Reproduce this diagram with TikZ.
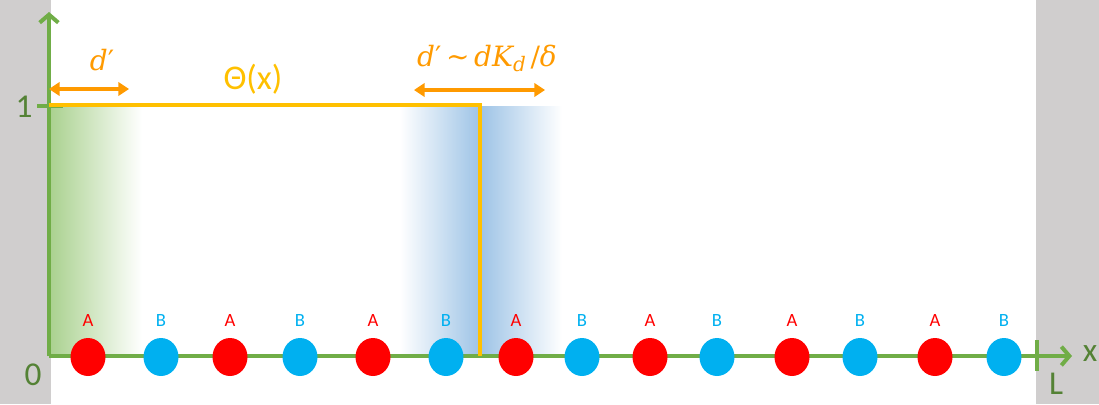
\documentclass[tikz,border=0pt]{standalone}
\usepackage{fontspec}
\setmainfont{Carlito}
\newfontfamily\mathlike{DejaVu Serif}
\usetikzlibrary{arrows.meta,shapes.geometric}
\definecolor{axisgreen}{HTML}{70AD47}
\definecolor{labgreen}{HTML}{548235}
\definecolor{bggray}{HTML}{D0CECE}
\definecolor{thetacol}{HTML}{FFC000}
\definecolor{arrorange}{HTML}{FF9A00}
\definecolor{ared}{HTML}{FF0000}
\definecolor{bblue}{HTML}{00B0F0}
\definecolor{shgreen}{HTML}{A9D18E}
\definecolor{shblue}{HTML}{9DC3E6}
\tikzset{
  axisline/.style={draw=axisgreen, line width=3pt},
  axislab/.style={text=labgreen, font=\fontsize{25}{28}\selectfont, inner sep=0pt},
  dimarrow/.style={draw=arrorange, line width=3pt, {Triangle[length=8pt,width=10pt]}-{Triangle[length=8pt,width=10pt]}},
  dimlab/.style={text=arrorange, font=\mathlike\fontsize{21}{24}\selectfont, inner sep=0pt},
  atomA/.style={ellipse, fill=ared, minimum width=26.25pt, minimum height=28.5pt, inner sep=0pt},
  atomB/.style={ellipse, fill=bblue, minimum width=26.25pt, minimum height=28.5pt, inner sep=0pt},
  labA/.style={text=ared, font=\fontsize{14}{16}\selectfont, inner sep=0pt},
  labB/.style={text=bblue, font=\fontsize{14}{16}\selectfont, inner sep=0pt},
}
\newcommand{\itx}[1]{{\itshape #1}}
\begin{document}
\begin{tikzpicture}[x=0.75pt,y=-0.75pt]
\useasboundingbox (0,0) rectangle (1099,404);
% background bars
\fill[bggray] (0,0) rectangle (51,404);
\fill[bggray] (1036,0) rectangle (1099,404);
% shaded regions
\shade[left color=shgreen, right color=white] (49,106) rectangle (142,356);
\shade[left color=white, right color=shblue] (400,106) rectangle (480,356);
\shade[left color=shblue, right color=white] (480,106) rectangle (562,356);
% axes
\coordinate (O) at (49,356);
\coordinate (ytop) at (49,12);
\coordinate (xend) at (1072,356);
\coordinate (t1a) at (37,106);
\coordinate (t1b) at (63,106);
\coordinate (tLa) at (1037,340);
\coordinate (tLb) at (1037,371);
\draw[axisline, -{Straight Barb[length=6pt,width=14pt]}] (O) -- (ytop);
\draw[axisline, -{Straight Barb[length=6pt,width=14pt]}] (O) -- (xend);
\draw[axisline] (t1a) -- (t1b);
\draw[axisline] (tLa) -- (tLb);
\node[axislab] (one) at (24,107) {1};
\node[axislab] (zero) at (33,375) {0};
\node[axislab] (xlab) at (1090,354) {x};
\node[axislab] (Llab) at (1056,384) {L};
% theta step
\coordinate (th0) at (49,105);
\coordinate (th1) at (480,105);
\coordinate (th2) at (480,356);
\draw[thetacol, line width=3pt] (th0) -- (th1) -- (th2);
\node[text=thetacol, font=\fontsize{26}{30}\selectfont, inner sep=0pt] (thetalab) at (253,79) {Θ(x)};
% dimension arrows
\coordinate (d1a) at (49,89);
\coordinate (d1b) at (129,89);
\coordinate (d2a) at (414,90);
\coordinate (d2b) at (545,90);
\draw[dimarrow] (d1a) -- (d1b);
\draw[dimarrow] (d2a) -- (d2b);
\node[dimlab] (dlab1) at (102,60) {\itx{d}′};
\node[dimlab] (dlab2) at (487,58) {\itx{d}′\,∼\,\itx{dK}\raisebox{-0.35ex}{\fontsize{15}{17}\selectfont\itshape d}\,/\itx{δ}};
% atoms
\foreach \i/\x/\t in {1/88/A,2/161/B,3/230/A,4/300/B,5/373/A,6/446/B,7/516/A,8/582/B,9/650/A,10/717/B,11/792/A,12/860/B,13/935/A,14/1004/B}{
  \node[atom\t] (atom\i) at (\x,357) {};
  \node[lab\t] (lab\i) at (\x,321) {\t};
}
\end{tikzpicture}
\end{document}
